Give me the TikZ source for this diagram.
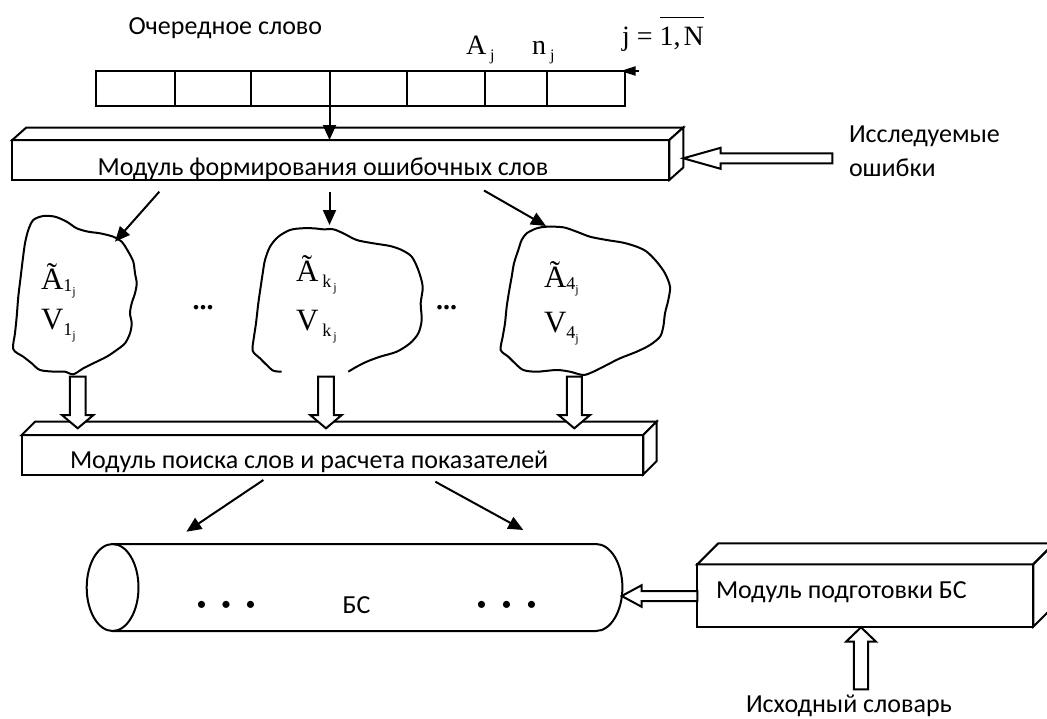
\documentclass[tikz,border=0pt]{standalone}
\usepackage{fontspec}
\setmainfont{Carlito}
\newfontfamily\tnr{Liberation Serif}
\usetikzlibrary{arrows.meta}
\newcommand\blockarrow[6]{%
  \draw[hollow, shift={(#1)}, rotate=#2] (0,0) -- (-#4,#5) -- (-#4,#6) -- (-#3,#6) -- (-#3,-#6) -- (-#4,-#6) -- (-#4,-#5) -- cycle;}
\newcommand\boxfaces[3]{%
  \draw[fill=white] (#1.north west) -- ++(#2,-#3) -- ([shift={(#2,-#3)}]#1.north east) -- (#1.north east) -- cycle;
  \draw[fill=white] (#1.north east) -- ++(#2,-#3) -- ([shift={(#2,-#3)}]#1.south east) -- (#1.south east) -- cycle;}
\newcommand\sbs[3]{\raisebox{-#1}{\fontsize{18}{18}\selectfont #2\raisebox{-4pt}{\fontsize{12}{12}\selectfont #3}}}
\begin{document}
\begin{tikzpicture}[x=1pt,y=-1pt,line width=2pt,
  lbl/.style={font=\fontsize{26}{31}\selectfont,inner sep=0,anchor=base west},
  mth/.style={font=\tnr\fontsize{31}{31}\selectfont,inner sep=0,anchor=base west},
  cellbox/.style={draw,inner sep=0,outer sep=0,minimum height=35pt},
  frontbox/.style={draw,fill=white,inner sep=0,outer sep=0},
  arr/.style={-{Triangle[length=15pt,width=13pt]}},
  hollow/.style={draw,fill=white},
  blob/.style={smooth cycle,tension=0.5},
  bul/.style={font=\fontsize{20}{20}\selectfont,inner sep=0,anchor=center},
]
\useasboundingbox (0,0) rectangle (1047,718);
\clip (0,0) rectangle (1047,718);

% ---------- top labels
\node[lbl] (och) at (127.5,34) {Очередное слово};
\node[mth,font=\tnr\fontsize{28}{28}\selectfont] (aj) at (465,54) {A\hspace{4pt}\raisebox{-6pt}{\fontsize{16}{16}\selectfont j}};
\node[mth,font=\tnr\fontsize{28}{28}\selectfont] (nj) at (531,54) {n\hspace{4pt}\raisebox{-6pt}{\fontsize{16}{16}\selectfont j}};
\node[mth,font=\tnr\fontsize{28}{28}\selectfont] (jN) at (621,45) {j = $\overline{\hbox{\raisebox{0pt}[26pt]{}1,\kern3pt N}}$};

% ---------- cells
\foreach \i/\a/\b in {1/96.4/174.5,2/174.5/251,3/251/329.5,4/329.5/407.1,5/407.1/485.4,6/485.4/547.1,7/547.1/624.5}
  \node[cellbox,minimum width={(\b-\a)*1pt}] (c\i) at ({(\a+\b)/2},88.5) {};
\coordinate (jin) at (639,71);
\draw[-{Triangle[length=15pt,width=9pt]}] (jin) -- ([xshift=-4pt]c7.north east);

% ---------- module 1
\node[frontbox,minimum width=657pt,minimum height=40pt] (m1) at (340.8,160) {};
\boxfaces{m1}{14}{12.5}
\begin{scope}
  \clip (m1.north west) rectangle (m1.south east);
  \node[lbl] (m1t) at (96.7,175) {Модуль формирования ошибочных слов};
\end{scope}
\draw[arr] (c3.south east) -- (c3.south east |- m1.north);

% errors label + hollow arrow
\node[lbl] (err1) at (848,142) {Исследуемые};
\node[lbl] (err2) at (848,176) {ошибки};
\coordinate (terr) at (683.3,158.3);
\blockarrow{terr}{180}{149}{37.3}{10.5}{5}

% ---------- arrows to blobs
\coordinate (s1) at (159.3,191.7); \coordinate (t1) at (115,241.7);
\coordinate (s2) at (329.5,191.7); \coordinate (t2) at (329.5,225);
\coordinate (s3) at (484,190.5);   \coordinate (t3) at (546,226);
\draw[arr] (s1) -- (t1);
\draw[arr] (s2) -- (t2);
\draw[arr] (s3) -- (t3);

% ---------- blobs
\draw plot[blob] coordinates {(33.3,220) (43.3,216) (55,216.7) (66.7,221.7) (76.7,228.3) (88.3,231.7) (100,233.3) (113.3,236.7) (121.7,241.7) (128.3,251.7) (133.3,261.7) (135,273.3) (136.7,283.3) (135,293.3) (131.7,303.3) (130,313.3) (131.7,323.3) (130,333.3) (125,343.3) (116.7,350) (106.7,356.7) (93.3,363.3) (83.3,368.3) (73.3,374.3) (65,371.7) (55,371.7) (40,370) (31.7,363.3) (23.3,356.7) (13.3,349.3) (15,333.3) (16.7,316.7) (18.3,296.7) (20.7,276.7) (22.7,260) (25,243.3) (28.3,230)};
\draw plot[smooth,tension=0.5] coordinates {(281.7,371.7) (273.3,370.7) (266.7,365) (260,358.3) (252.7,350.7) (254,336.7) (256,323.3) (258.3,303.3) (260.7,286.7) (262.7,273.3) (265,260) (270,246.7) (278.3,236.7) (290,230) (301.7,228.3) (313.3,228.3) (323.3,229.3) (333.3,229.3) (343.3,233.3) (356.7,240) (373.3,243.3) (390,246) (401.7,250) (411.7,256.7) (418.3,270) (422.7,286.7) (420.7,303.3) (421.7,320) (418.3,333.3) (410,343.3) (396.7,351.7) (380,356.7) (366.7,361.7) (356.7,366.7) (348.3,371.7)};
\draw plot[blob] coordinates {(526.7,233.3) (536.7,228.3) (546.7,226.7) (563.3,227.3) (576.7,231.7) (590,236.7) (606.7,240) (623.3,242.7) (636.7,246.7) (646.7,251.7) (656.7,261.7) (665,273.3) (670,286.7) (668.3,300) (665,313.3) (663.3,326.7) (660,336.7) (650,345) (636.7,351.7) (620,358.3) (606.7,365) (593.3,371.7) (583.3,375) (570,371.7) (556.7,370) (536.7,371.7) (523.3,370) (515,363.3) (508.3,356.7) (500.7,350) (502.7,336.7) (505,323.3) (506.7,306.7) (509.3,290) (511.7,276.7) (514,263.3) (518.3,250) (521.7,240)};

\node[mth] (a1) at (40,289) {Ã\sbs{2pt}{1}{j}};
\node[mth] (v1) at (40,329) {V\sbs{6pt}{1}{j}};
\node[mth] (a2) at (295,281) {Ã\hspace{4pt}\sbs{6pt}{k\hspace{2pt}}{j}};
\node[mth] (v2) at (295,330) {V\hspace{4pt}\sbs{6pt}{k\hspace{2pt}}{j}};
\node[mth] (a3) at (543,287) {Ã\sbs{2pt}{4}{j}};
\node[mth] (v3) at (543,332) {V\sbs{6pt}{4}{j}};
\node[mth,font=\tnr\fontsize{28}{28}\selectfont] (dots1) at (191.7,309.5) {\bfseries ...};
\node[mth,font=\tnr\fontsize{28}{28}\selectfont] (dots2) at (435,309.5) {\bfseries ...};

% ---------- module 2
\node[frontbox,minimum width=621.6pt,minimum height=39.5pt] (m2) at (332.5,454.75) {};
\boxfaces{m2}{13.3}{13.3}
\begin{scope}
  \clip (m2.north west) rectangle (m2.south east);
  \node[lbl] (m2t) at (69,468) {Модуль поиска слов и расчета показателей};
\end{scope}
\coordinate (ta1) at (77.7,428.3);
\coordinate (ta2) at (326,428.3);
\coordinate (ta3) at (574.3,428.3);
\blockarrow{ta1}{-90}{51.6}{13.3}{15.8}{7.85}
\blockarrow{ta2}{-90}{51.6}{13.3}{15.8}{7.85}
\blockarrow{ta3}{-90}{51.6}{13.3}{15.8}{7.5}

% ---------- arrows to cylinder
\coordinate (s4) at (263.4,480); \coordinate (t4) at (186.4,531.7);
\coordinate (s5) at (435.3,481.7); \coordinate (t5) at (523.3,530);
\draw[arr] (s4) -- (t4);
\draw[arr] (s5) -- (t5);

% ---------- cylinder
\coordinate (cylL) at (112.6,587.5);
\draw (112.6,544) -- (596,544) arc[start angle=90,end angle=-90,x radius=26.4pt,y radius=43.5pt] -- (112.6,631);
\draw (cylL) ellipse[x radius=25.9pt,y radius=43.5pt];
\node[bul] (bl) at (226,606) {\makebox[24.5pt]{•}\makebox[24.5pt]{•}\makebox[24.5pt]{•}};
\node[bul] (br) at (506.5,606) {\makebox[25pt]{•}\makebox[25pt]{•}\makebox[25pt]{•}};
\node[lbl] (bs) at (341.6,613) {БС};

% ---------- module 3
\node[frontbox,minimum width=336pt,minimum height=62.4pt] (m3) at (865.3,595.5) {};
\boxfaces{m3}{21}{21}
\node[lbl] (m3t) at (715,598) {Модуль подготовки БС};
\coordinate (tcyl) at (621.7,596);
\blockarrow{tcyl}{180}{75.6}{20}{10.8}{5}
\coordinate (tdict) at (861,627.3);
\blockarrow{tdict}{90}{62}{14.4}{15}{7.2}
\node[lbl] (dict) at (745,712) {Исходный словарь};
\end{tikzpicture}
\end{document}
